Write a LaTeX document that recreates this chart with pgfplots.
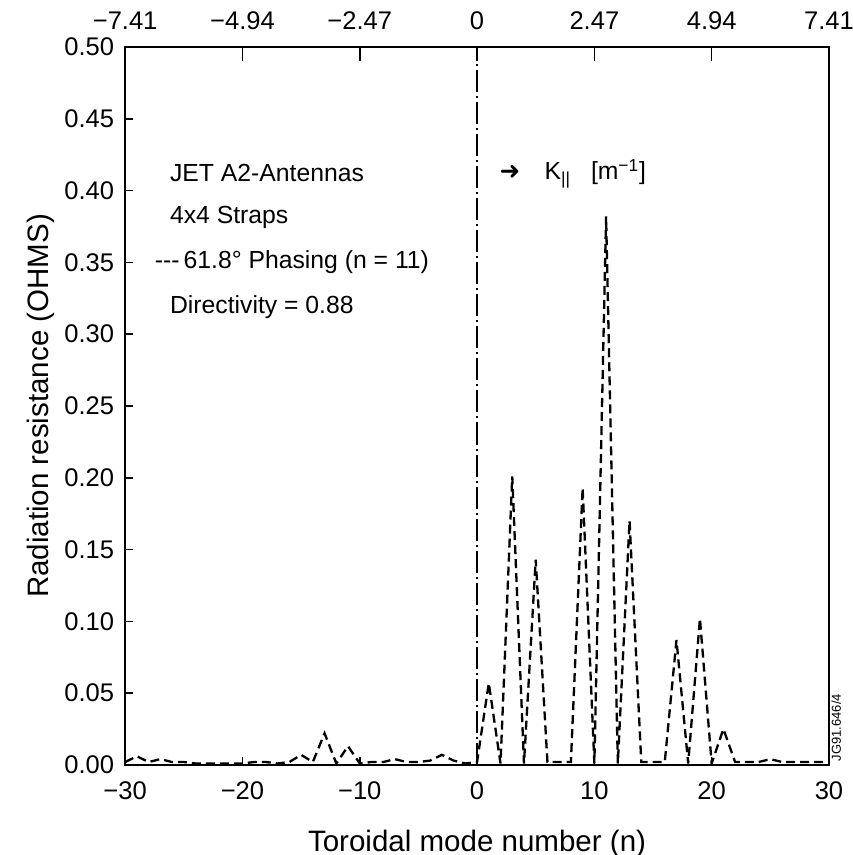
\documentclass[border=0pt]{standalone}
\usepackage{fontspec}
\setmainfont{Liberation Sans}
\newfontfamily\dejavu{DejaVu Sans}
\usepackage{pgfplots}
\pgfplotsset{compat=1.18}

% Radiation resistance vs toroidal mode number, 61.8 deg phasing
\pgfplotstableread{
n    R
-30  0.002
-29  0.006
-28  0.002
-27  0.004
-26  0.002
-25  0.002
-24  0.001
-23  0.001
-22  0.001
-21  0.001
-20  0.001
-19  0.002
-18  0.002
-17  0.001
-16  0.002
-15  0.007
-14  0.002
-13  0.022
-12  0.001
-11  0.013
-10  0.001
-9   0.002
-8   0.002
-7   0.004
-6   0.002
-5   0.002
-4   0.003
-3   0.007
-2   0.003
-1   0.001
0    0.002
1    0.057
2    0.001
3    0.201
4    0.001
5    0.143
6    0.002
7    0.002
8    0.002
9    0.193
10   0.001
11   0.382
12   0.001
13   0.170
14   0.002
15   0.002
16   0.002
17   0.087
18   0.001
19   0.102
20   0.001
21   0.025
22   0.002
23   0.002
24   0.002
25   0.004
26   0.002
27   0.002
28   0.002
29   0.002
30   0.002
}\phasing

\begin{document}
\begin{tikzpicture}
\pgfplotsset{every axis/.append style={
  width=351.5bp, height=358.5bp, scale only axis,
  xmin=-30, xmax=30, ymin=0, ymax=0.5,
  axis line style={line width=1bp},
  tick style={line width=0.8bp, black},
  tick label style={font=\fontsize{12.8}{14}\selectfont},
  /pgf/number format/assume math mode=true,
}}
\begin{axis}[
  name=main, clip mode=individual,
  xtick={-30,-20,-10,0,10,20,30},
  xticklabels={−30,−20,−10,0,10,20,30},
  ytick={0,0.05,0.1,0.15,0.2,0.25,0.3,0.35,0.4,0.45,0.5},
  yticklabels={0.00,0.05,0.10,0.15,0.20,0.25,0.30,0.35,0.40,0.45,0.50},
  xtick pos=bottom, ytick pos=left,
  tick align=inside, major tick length=4bp,
  xticklabel style={yshift=-5bp},
  yticklabel style={xshift=-2bp},
  xlabel={Toroidal mode number (n)},
  ylabel={Radiation resistance (OHMS)},
  label style={font=\fontsize{14.8}{16}\selectfont},
  xlabel style={yshift=-8bp},
  ylabel style={yshift=-2bp},
]
\addplot[black, line width=1.15bp, dash pattern=on 4.5bp off 2.5bp] table[x=n, y=R] {\phasing};
\draw[black, line width=1bp, dash pattern=on 11bp off 2bp on 1bp off 2bp]
  (axis cs:0,0) -- (axis cs:0,0.5);
\begin{scope}[every node/.style={font=\fontsize{12.4}{14}\selectfont, anchor=west, inner sep=0pt}]
\node at (axis cs:-26.2,0.412) {JET A2-Antennas};
\node at (axis cs:-26.2,0.381) {4x4 Straps};
\node at (axis cs:-27.5,0.350) {-{}-{}-\,61.8° Phasing (n = 11)};
\node at (axis cs:-26.2,0.319) {Directivity = 0.88};
\node at (axis cs:1.9,0.412) {{\dejavu ➜}\hspace{12bp}K\textsubscript{||}\hspace{10bp}[m\textsuperscript{−1}]};
\end{scope}
\node[rotate=90, anchor=north west, inner sep=1bp, font=\fontsize{6.5}{7}\selectfont]
  at (axis cs:30,0.001) {JG91.646/4};
\end{axis}
\begin{axis}[
  axis x line*=top, axis y line=none,
  xtick={-30,-20,-10,0,10,20,30},
  xticklabels={−7.41,−4.94,−2.47,0,2.47,4.94,7.41},
  xticklabel style={yshift=5bp},
  ytick=\empty,
  tick align=inside, major tick length=7bp,
]
\end{axis}
\pgfresetboundingbox
\path ([shift={(-62.5bp,-45bp)}]main.south west) rectangle ([shift={(12bp,23.5bp)}]main.north east);
\end{tikzpicture}
\end{document}
